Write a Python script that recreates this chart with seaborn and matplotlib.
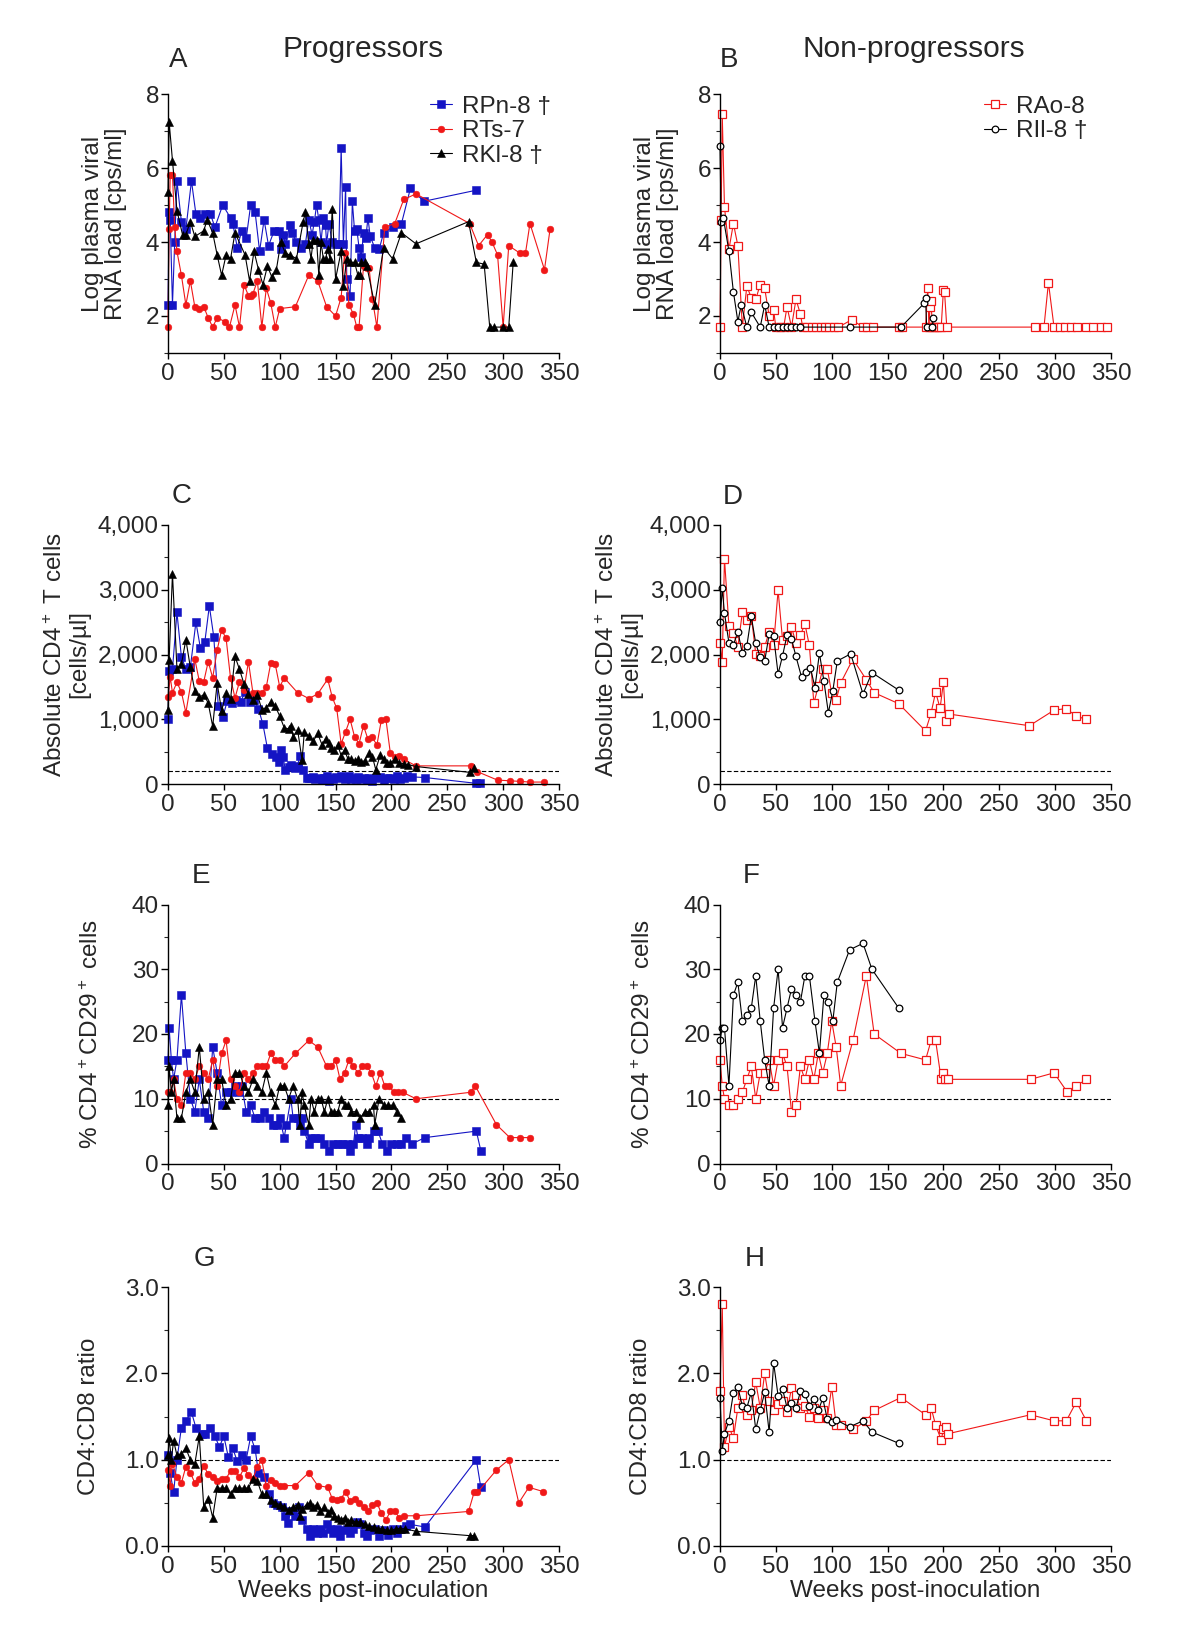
import matplotlib
matplotlib.use("Agg")
import matplotlib.pyplot as plt
import seaborn as sns
import pandas as pd
from matplotlib.ticker import MultipleLocator, FuncFormatter

# ----------------------------------------------------------
# data (week, value)
# ----------------------------------------------------------
# A: log plasma viral RNA load, progressors
rpn8_vl = [(0, 2.3), (1, 4.8), (2, 4.6), (4, 2.3), (6, 4.0), (8, 5.65), (12, 4.55), (16, 4.35), (21, 5.65),
           (25, 4.75), (29, 4.65), (33, 4.75), (38, 4.75), (42, 4.4), (49, 5.0), (56, 4.65), (58, 4.5),
           (62, 3.85), (66, 4.3), (70, 4.1), (74, 5.0), (78, 4.8), (82, 3.75), (86, 4.6), (90, 3.9),
           (95, 4.3), (99, 4.3), (101, 3.8), (103, 4.2), (105, 3.95), (109, 4.45), (111, 4.25), (115, 4.0),
           (119, 3.85), (123, 3.95), (126, 4.6), (129, 4.2), (131, 4.55), (133, 5.0), (135, 4.6), (137, 4.0),
           (139, 4.65), (141, 4.45), (142, 3.95), (144, 4.5), (147, 4.0), (150, 3.95), (153, 3.95),
           (155, 6.55), (157, 3.95), (159, 5.5), (160, 3.0), (163, 2.55), (165, 5.1), (167, 4.3), (169, 4.35),
           (171, 3.85), (173, 3.6), (175, 4.25), (177, 4.1), (179, 4.65), (181, 4.15), (185, 3.85),
           (189, 3.8), (193, 4.25), (201, 4.4), (209, 4.5), (217, 5.45), (229, 5.1), (276, 5.4)]
rts7_vl = [(0, 1.7), (1, 4.35), (2, 5.8), (4, 5.8), (6, 4.4), (8, 3.75), (12, 3.1), (16, 2.3), (20, 2.95),
           (24, 2.25), (28, 2.2), (32, 2.25), (36, 1.95), (40, 1.7), (44, 1.95), (51, 1.85), (55, 1.7),
           (60, 2.3), (64, 1.7), (68, 2.85), (72, 2.55), (74, 2.55), (76, 2.6), (80, 2.95), (84, 1.7),
           (88, 2.75), (92, 2.35), (96, 1.7), (100, 2.2), (114, 2.25), (126, 3.1), (134, 2.95), (142, 2.25),
           (150, 2.0), (155, 2.5), (158, 3.7), (162, 2.3), (166, 2.05), (169, 1.7), (171, 1.7), (175, 3.35),
           (178, 3.3), (180, 3.3), (183, 2.45), (187, 1.7), (194, 4.4), (203, 4.5), (211, 5.15), (222, 5.3),
           (270, 4.5), (278, 3.9), (286, 4.2), (290, 4.0), (295, 3.65), (300, 1.7), (305, 3.9), (315, 3.7),
           (320, 3.7), (324, 4.5), (337, 3.25), (342, 4.35)]
rkl8_vl = [(0, 5.35), (1, 7.25), (4, 6.2), (8, 4.85), (13, 4.2), (16, 4.2), (20, 4.55), (24, 4.15), (32, 4.3),
           (35, 4.6), (40, 4.25), (44, 3.65), (48, 3.1), (52, 3.65), (56, 3.55), (60, 4.25), (69, 3.65),
           (73, 2.95), (77, 3.75), (81, 3.25), (85, 2.85), (89, 3.35), (93, 3.05), (97, 3.25), (101, 4.0),
           (105, 3.7), (109, 3.65), (115, 3.55), (121, 4.55), (123, 4.8), (126, 3.95), (128, 3.55),
           (130, 4.05), (133, 4.05), (135, 3.1), (137, 4.0), (139, 3.55), (141, 3.55), (143, 3.8),
           (145, 3.55), (147, 4.9), (150, 3.0), (155, 3.75), (157, 2.8), (160, 3.55), (163, 3.45),
           (167, 3.45), (170, 3.1), (172, 3.1), (173, 3.45), (176, 3.45), (178, 3.35), (185, 2.3),
           (193, 3.85), (201, 3.55), (209, 4.25), (222, 3.95), (269, 4.55), (276, 3.45), (283, 3.4),
           (288, 1.7), (292, 1.7), (300, 1.7), (305, 1.7), (309, 3.45)]

# B: log plasma viral RNA load, non-progressors
rao8_vl = [(0, 1.7), (1, 4.6), (2, 7.45), (4, 4.95), (8, 3.8), (12, 4.5), (16, 3.9), (20, 1.7), (24, 2.8),
           (28, 2.5), (32, 2.45), (36, 2.85), (40, 2.75), (44, 2.0), (48, 2.15), (50, 1.7), (54, 1.7),
           (57, 1.7), (60, 2.25), (64, 1.7), (68, 2.45), (72, 2.05), (74, 1.7), (78, 1.7), (82, 1.7),
           (86, 1.7), (90, 1.7), (94, 1.7), (98, 1.7), (102, 1.7), (106, 1.7), (118, 1.9), (128, 1.7),
           (132, 1.7), (137, 1.7), (160, 1.7), (163, 1.7), (184, 1.7), (186, 2.75), (187, 1.7), (188, 2.25),
           (189, 2.4), (190, 1.7), (192, 1.7), (194, 1.7), (196, 1.7), (198, 1.7), (200, 2.7), (201, 2.65),
           (203, 1.7), (282, 1.7), (290, 1.7), (294, 2.9), (299, 1.7), (304, 1.7), (309, 1.7), (314, 1.7),
           (320, 1.7), (328, 1.7), (334, 1.7), (341, 1.7), (346, 1.7)]
rii8_vl = [(0, 6.6), (1, 4.55), (3, 4.65), (8, 3.75), (12, 2.65), (16, 1.85), (19, 2.3), (24, 1.7), (28, 2.1),
           (36, 1.7), (40, 2.3), (44, 1.7), (48, 1.7), (52, 1.7), (56, 1.7), (60, 1.7), (64, 1.7), (68, 1.7),
           (72, 1.7), (116, 1.7), (162, 1.7), (183, 2.35), (184, 2.5), (185, 1.7), (190, 1.7), (191, 1.95)]

# C: absolute CD4+ T cells, progressors
rpn8_cd4 = [(0, 1000), (1, 1750), (4, 1770), (8, 2650), (12, 1960), (16, 1780), (20, 1800), (25, 2500),
            (29, 2100), (33, 2200), (37, 2750), (41, 2270), (45, 1200), (49, 1030), (53, 1280), (57, 1250),
            (61, 1290), (65, 1270), (69, 1420), (73, 1270), (77, 1300), (81, 1160), (85, 920), (89, 550),
            (93, 470), (97, 420), (99, 340), (101, 520), (103, 420), (105, 220), (108, 270), (110, 300),
            (114, 250), (116, 280), (118, 430), (121, 220), (124, 90), (126, 100), (128, 90), (130, 110),
            (132, 80), (135, 100), (138, 60), (140, 90), (142, 120), (144, 50), (146, 100), (148, 80),
            (150, 110), (152, 90), (155, 120), (158, 70), (160, 100), (162, 130), (164, 80), (166, 100),
            (168, 70), (170, 110), (172, 80), (175, 100), (178, 60), (180, 100), (183, 40), (186, 90),
            (190, 110), (193, 60), (196, 90), (199, 100), (202, 80), (205, 120), (208, 70), (211, 90),
            (214, 130), (218, 110), (230, 100), (276, 10), (279, 10)]
rts7_cd4 = [(0, 1340), (2, 1650), (4, 1410), (8, 1570), (12, 1420), (16, 1100), (24, 1930), (28, 1590),
            (32, 1580), (36, 1890), (40, 1640), (44, 2070), (48, 2380), (52, 2250), (56, 1630), (60, 1330),
            (64, 1580), (68, 1450), (72, 1890), (76, 1410), (80, 1400), (84, 1400), (88, 1500), (92, 1870),
            (96, 1850), (100, 1500), (104, 1640), (116, 1410), (126, 1320), (134, 1390), (143, 1620),
            (147, 1340), (151, 1170), (155, 620), (159, 810), (163, 1000), (167, 730), (171, 620), (175, 900),
            (179, 690), (183, 720), (187, 600), (191, 990), (195, 1010), (199, 480), (203, 420), (207, 430),
            (211, 380), (222, 280), (271, 280), (277, 190), (295, 60), (306, 50), (315, 40), (324, 30),
            (337, 30)]
rkl8_cd4 = [(0, 1140), (1, 1920), (4, 3250), (8, 1780), (12, 1850), (16, 2230), (20, 1800), (24, 1440),
            (28, 1340), (32, 1380), (36, 1250), (40, 890), (44, 1560), (48, 1130), (52, 1400), (56, 1310),
            (60, 1970), (64, 1770), (68, 1550), (72, 1390), (76, 1290), (80, 1380), (84, 1150), (88, 1180),
            (92, 1270), (96, 1200), (100, 1050), (104, 870), (108, 850), (110, 900), (112, 730), (116, 840),
            (120, 370), (122, 800), (126, 740), (130, 660), (134, 780), (138, 600), (141, 700), (144, 640),
            (146, 560), (149, 520), (152, 600), (155, 440), (158, 520), (161, 390), (164, 390), (167, 360),
            (170, 380), (173, 340), (176, 360), (180, 480), (183, 420), (186, 220), (190, 450), (193, 380),
            (196, 320), (199, 330), (203, 380), (207, 330), (211, 310), (215, 300), (222, 270), (270, 180),
            (274, 240)]

# D: absolute CD4+ T cells, non-progressors
rao8_cd4 = [(0, 2180), (2, 1880), (4, 3480), (8, 2440), (12, 2330), (16, 2120), (20, 2650), (24, 2530),
            (28, 2600), (32, 2010), (36, 1970), (40, 2120), (44, 2350), (48, 2150), (52, 2990), (56, 2220),
            (60, 2290), (64, 2430), (68, 2170), (72, 2300), (76, 2470), (80, 2140), (84, 1250), (88, 1510),
            (92, 1770), (96, 1780), (100, 1400), (104, 1300), (108, 1560), (119, 1930), (131, 1610),
            (138, 1410), (160, 1240), (184, 820), (189, 1100), (193, 1420), (197, 1170), (200, 1570),
            (202, 980), (205, 1080), (277, 900), (299, 1140), (310, 1165), (319, 1045), (328, 1000)]
rii8_cd4 = [(0, 2500), (2, 3020), (4, 2640), (8, 2180), (12, 2150), (16, 2350), (20, 2020), (24, 2130),
            (28, 2590), (32, 2170), (36, 1960), (40, 1900), (44, 2310), (48, 2280), (52, 1700), (56, 1980),
            (60, 2300), (64, 2240), (68, 1970), (73, 1650), (77, 1730), (81, 1790), (85, 1490), (89, 2020),
            (93, 1590), (97, 1100), (101, 1440), (105, 1900), (117, 2010), (128, 1390), (136, 1720),
            (160, 1450)]

# E: % CD4+CD29+ cells, progressors
rpn8_cd29 = [(0, 16), (1, 21), (3, 16), (5, 13), (8, 16), (12, 26), (16, 17), (20, 10), (24, 8), (28, 13),
             (32, 8), (36, 7), (40, 18), (44, 14), (48, 9), (52, 11), (56, 11), (60, 12), (64, 11), (66, 12),
             (70, 8), (74, 9), (78, 7), (82, 7), (86, 8), (90, 7), (94, 6), (98, 6), (100, 7), (104, 4),
             (106, 6), (110, 10), (112, 7), (116, 7), (118, 6), (120, 7), (122, 5), (126, 3), (128, 4),
             (132, 4), (136, 4), (140, 3), (144, 2), (148, 3), (152, 3), (156, 3), (160, 3), (163, 2),
             (166, 3), (168, 6), (170, 4), (174, 4), (178, 3), (180, 4), (184, 5), (188, 5), (192, 3),
             (196, 2), (200, 3), (205, 3), (209, 3), (213, 4), (218, 3), (230, 4), (276, 5), (280, 2)]
rts7_cd29 = [(0, 11), (2, 11), (5, 13), (8, 10), (12, 9), (16, 14), (20, 14), (24, 13), (28, 15), (32, 14),
             (36, 13), (40, 16), (44, 12), (48, 17), (52, 19), (56, 13), (60, 12), (64, 11), (68, 14),
             (72, 13), (76, 14), (80, 15), (84, 15), (88, 15), (92, 17), (96, 16), (100, 16), (104, 15),
             (114, 17), (126, 19), (134, 18), (142, 15), (146, 15), (150, 16), (154, 13), (158, 14),
             (162, 16), (166, 15), (170, 14), (174, 15), (178, 15), (182, 14), (186, 12), (190, 14),
             (194, 12), (198, 12), (202, 11), (206, 11), (210, 11), (222, 10), (271, 11), (275, 12),
             (294, 6), (306, 4), (315, 4), (324, 4)]
rkl8_cd29 = [(0, 9), (1, 15), (3, 11), (5, 13), (8, 7), (12, 7), (16, 11), (20, 13), (24, 11), (28, 18),
             (32, 10), (36, 11), (40, 6), (44, 13), (48, 13), (52, 9), (56, 10), (60, 14), (64, 14), (68, 12),
             (72, 11), (76, 13), (80, 12), (84, 11), (88, 14), (92, 11), (96, 9), (100, 12), (104, 12),
             (108, 10), (112, 12), (116, 10), (118, 6), (120, 11), (122, 9), (126, 6), (128, 10), (131, 8),
             (134, 10), (137, 10), (140, 8), (143, 10), (146, 8), (149, 8), (152, 8), (155, 10), (158, 9),
             (161, 9), (164, 8), (168, 8), (172, 7), (176, 8), (180, 8), (184, 9), (185, 6), (189, 10),
             (193, 9), (197, 9), (201, 9), (205, 8), (209, 7)]

# F: % CD4+CD29+ cells, non-progressors
rao8_cd29 = [(0, 16), (2, 12), (4, 10), (8, 9), (12, 9), (16, 10), (20, 11), (24, 13), (28, 15), (32, 10),
             (36, 14), (40, 14), (44, 16), (48, 12), (52, 16), (56, 17), (60, 15), (64, 8), (68, 9), (72, 15),
             (76, 13), (80, 16), (84, 13), (88, 17), (92, 14), (96, 17), (100, 22), (104, 18), (108, 12),
             (119, 19), (131, 29), (138, 20), (162, 17), (184, 16), (189, 19), (193, 19), (198, 13),
             (200, 14), (201, 13), (204, 13), (278, 13), (299, 14), (311, 11), (319, 12), (328, 13)]
rii8_cd29 = [(0, 19), (2, 21), (4, 21), (8, 12), (12, 26), (16, 28), (20, 22), (24, 23), (28, 24), (32, 29),
             (36, 22), (40, 16), (44, 12), (48, 24), (52, 30), (56, 21), (60, 24), (64, 27), (68, 26),
             (72, 25), (76, 29), (80, 29), (85, 22), (89, 17), (93, 26), (97, 25), (101, 22), (105, 28),
             (116, 33), (128, 34), (136, 30), (160, 24)]

# G: CD4:CD8 ratio, progressors
rpn8_ratio = [(0, 1.05), (2, 0.85), (5, 0.62), (8, 1.0), (12, 1.37), (16, 1.45), (21, 1.55), (25, 1.37),
              (30, 1.3), (33, 1.3), (38, 1.37), (42, 1.27), (46, 1.15), (50, 1.27), (54, 1.03), (58, 1.13),
              (62, 0.98), (66, 1.05), (70, 1.0), (74, 1.27), (78, 1.12), (81, 0.85), (86, 0.8), (90, 0.6),
              (94, 0.5), (98, 0.47), (102, 0.45), (105, 0.35), (107, 0.27), (110, 0.4), (114, 0.35),
              (117, 0.45), (120, 0.3), (124, 0.2), (127, 0.12), (130, 0.2), (133, 0.15), (136, 0.2),
              (139, 0.15), (142, 0.25), (145, 0.2), (148, 0.15), (151, 0.2), (154, 0.12), (157, 0.18),
              (160, 0.2), (163, 0.15), (166, 0.2), (169, 0.28), (172, 0.25), (175, 0.15), (178, 0.12),
              (181, 0.18), (185, 0.2), (189, 0.12), (193, 0.18), (197, 0.13), (201, 0.2), (205, 0.15),
              (209, 0.2), (213, 0.23), (217, 0.25), (230, 0.22), (276, 1.0), (280, 0.68)]
rts7_ratio = [(0, 0.88), (2, 0.7), (4, 0.95), (8, 0.8), (12, 0.73), (16, 0.92), (20, 0.85), (24, 0.73),
              (28, 0.78), (32, 0.93), (36, 0.83), (40, 0.8), (44, 0.75), (48, 0.78), (52, 0.78), (56, 0.87),
              (60, 0.87), (64, 0.8), (68, 0.9), (72, 0.82), (76, 0.78), (80, 0.92), (84, 1.0), (88, 0.7),
              (92, 0.77), (96, 0.73), (100, 0.7), (104, 0.7), (114, 0.7), (126, 0.85), (134, 0.7),
              (143, 0.68), (147, 0.55), (151, 0.53), (155, 0.55), (159, 0.63), (163, 0.52), (167, 0.55),
              (171, 0.5), (175, 0.45), (179, 0.4), (183, 0.48), (187, 0.5), (191, 0.38), (195, 0.3),
              (199, 0.4), (203, 0.4), (207, 0.33), (211, 0.35), (222, 0.35), (269, 0.4), (274, 0.62),
              (277, 0.62), (294, 0.88), (305, 1.0), (314, 0.5), (323, 0.68), (336, 0.63)]
rkl8_ratio = [(0, 1.05), (1, 1.25), (3, 1.0), (5, 1.22), (8, 1.05), (12, 1.07), (16, 1.13), (20, 1.0),
              (24, 0.95), (28, 1.27), (32, 0.45), (36, 0.55), (40, 0.33), (44, 0.67), (48, 0.67), (52, 0.67),
              (56, 0.6), (60, 0.67), (64, 0.67), (68, 0.67), (72, 0.67), (76, 0.78), (80, 0.75), (84, 0.6),
              (88, 0.6), (92, 0.53), (96, 0.5), (100, 0.48), (104, 0.45), (108, 0.42), (112, 0.45),
              (116, 0.48), (118, 0.35), (120, 0.43), (124, 0.48), (127, 0.5), (130, 0.45), (133, 0.48),
              (136, 0.4), (140, 0.45), (143, 0.38), (146, 0.42), (149, 0.35), (152, 0.33), (155, 0.3),
              (158, 0.33), (161, 0.28), (164, 0.3), (168, 0.28), (172, 0.28), (176, 0.25), (180, 0.23),
              (184, 0.22), (188, 0.2), (192, 0.2), (196, 0.18), (200, 0.18), (204, 0.2), (208, 0.2),
              (212, 0.2), (222, 0.17), (270, 0.12), (274, 0.12)]

# H: CD4:CD8 ratio, non-progressors
rao8_ratio = [(0, 1.8), (2, 2.8), (4, 1.15), (8, 1.38), (12, 1.25), (16, 1.6), (20, 1.75), (24, 1.52),
              (28, 1.58), (32, 1.9), (36, 1.6), (40, 2.0), (44, 1.68), (48, 1.58), (52, 1.65), (56, 1.68),
              (60, 1.55), (64, 1.83), (68, 1.75), (72, 1.6), (76, 1.62), (80, 1.5), (84, 1.6), (88, 1.48),
              (92, 1.58), (96, 1.48), (100, 1.84), (104, 1.4), (108, 1.4), (119, 1.35), (131, 1.45),
              (138, 1.57), (162, 1.72), (184, 1.52), (189, 1.6), (193, 1.4), (198, 1.23), (200, 1.35),
              (202, 1.38), (204, 1.3), (278, 1.52), (299, 1.45), (310, 1.45), (319, 1.67), (328, 1.45)]
rii8_ratio = [(0, 1.72), (2, 1.1), (4, 1.3), (8, 1.45), (12, 1.77), (16, 1.84), (20, 1.62), (24, 1.6),
              (28, 1.78), (32, 1.35), (36, 1.57), (40, 1.78), (44, 1.32), (48, 2.12), (52, 1.74), (56, 1.82),
              (60, 1.6), (64, 1.66), (68, 1.6), (72, 1.79), (76, 1.76), (80, 1.62), (84, 1.7), (88, 1.57),
              (92, 1.71), (96, 1.47), (100, 1.44), (104, 1.46), (116, 1.38), (128, 1.45), (136, 1.32),
              (160, 1.19)]

progressor_labels = ["RPn-8 \u2020", "RTs-7", "RKl-8 \u2020"]
nonprogressor_labels = ["RAo-8", "RIl-8 \u2020"]
panel_letters = ["A", "B", "C", "D", "E", "F", "G", "H"]
col_titles = ["Progressors", "Non-progressors"]
y_labels = ["Log plasma viral\nRNA load [cps/ml]",
            "Absolute CD4$^+$ T cells\n[cells/\u00b5l]",
            "% CD4$^+$CD29$^+$ cells",
            "CD4:CD8 ratio"]
x_label = "Weeks post-inoculation"
thresholds = [None, 200, 10, 1.0]

# ----------------------------------------------------------
# style
# ----------------------------------------------------------
sns.set_style("ticks")
plt.rcParams["font.family"] = ["Liberation Sans", "DejaVu Sans"]
plt.rcParams["mathtext.default"] = "regular"

BLUE = "#1414c4"
RED = "#f01818"
BLACK = "#000000"
FS = 17.5

W, H = 1200, 1639
fig = plt.figure(figsize=(W / 100, H / 100), dpi=100)


def make_axes(left, bottom, width=391, height=259):
    return fig.add_axes([left / W, 1 - bottom / H, width / W, height / H])


def draw(ax, pts, color, marker, ms, hollow=False, label=None):
    df = pd.DataFrame(pts, columns=["week", "value"])
    sns.lineplot(data=df, x="week", y="value", ax=ax, sort=False, estimator=None,
                 color=color, lw=0.8, marker=marker, ms=ms,
                 mfc="white" if hollow else color, mec=color,
                 mew=0.9 if hollow else 0.4, clip_on=False, label=label)


lefts = [168, 720]
bottoms = [353, 784, 1163.5, 1546]
axes = [[make_axes(l, b) for l in lefts] for b in bottoms]

prog = [rpn8_vl, rts7_vl, rkl8_vl], [rpn8_cd4, rts7_cd4, rkl8_cd4], \
       [rpn8_cd29, rts7_cd29, rkl8_cd29], [rpn8_ratio, rts7_ratio, rkl8_ratio]
nonprog = [rao8_vl, rii8_vl], [rao8_cd4, rii8_cd4], [rao8_cd29, rii8_cd29], [rao8_ratio, rii8_ratio]

ylims = [(1, 8), (0, 4000), (0, 40), (0, 3)]
ymajor = [2, 1000, 10, 1.0]
yminor = [1, 500, 5, 0.5]
ylabel_x = [-0.105, -0.20, -0.165, -0.175]

for r in range(4):
    axl, axr = axes[r]
    # progressors
    for pts, col, mk, ms, lab in zip(prog[r], [BLUE, RED, BLACK], ["s", "o", "^"], [5.4, 4.8, 5.2],
                                     progressor_labels):
        draw(axl, pts, col, mk, ms, label=lab if r == 0 else None)
    # non-progressors
    for pts, col, mk, ms, lab in zip(nonprog[r], [RED, BLACK], ["s", "o"], [5.8, 4.8],
                                     nonprogressor_labels):
        draw(axr, pts, col, mk, ms, hollow=True, label=lab if r == 0 else None)

    for ax in (axl, axr):
        ax.set_xlim(0, 350)
        ax.set_ylim(*ylims[r])
        ax.xaxis.set_major_locator(MultipleLocator(50))
        ax.yaxis.set_major_locator(MultipleLocator(ymajor[r]))
        ax.yaxis.set_minor_locator(MultipleLocator(yminor[r]))
        if r == 1:
            ax.yaxis.set_major_formatter(FuncFormatter(lambda v, p: f"{int(v):,}"))
        if r == 3:
            ax.yaxis.set_major_formatter(FuncFormatter(lambda v, p: f"{v:.1f}"))
        sns.despine(ax=ax)
        for s in ("left", "bottom"):
            ax.spines[s].set_linewidth(1.0)
            ax.spines[s].set_color("black")
        ax.tick_params(axis="both", which="major", labelsize=FS, direction="out", width=1.0,
                       color="black")
        ax.tick_params(axis="y", which="major", length=5, pad=1.5)
        ax.tick_params(axis="y", which="minor", length=3, width=0.8)
        ax.tick_params(axis="x", which="major", length=4, pad=3)
        ax.set_ylabel(y_labels[r], fontsize=FS, linespacing=1.05)
        ax.yaxis.set_label_coords(ylabel_x[r], 0.5)
        if r == 3:
            ax.set_xlabel(x_label, fontsize=FS, labelpad=2)
        else:
            ax.set_xlabel("")
        if thresholds[r] is not None:
            ax.axhline(thresholds[r], color="black", lw=0.8, ls=(0, (4, 2)), zorder=1)
        leg = ax.get_legend()
        if leg is not None:
            leg.remove()

# legends
axes[0][0].legend(loc="upper right", bbox_to_anchor=(1.01, 1.04), fontsize=FS, frameon=False,
                  handlelength=0.9, handletextpad=0.4, labelspacing=0.1, borderpad=0)
axes[0][1].legend(loc="upper right", bbox_to_anchor=(0.97, 1.04), fontsize=FS, frameon=False,
                  handlelength=0.9, handletextpad=0.4, labelspacing=0.1, borderpad=0)

# panel letters and column titles
letter_pos = [(178, 60), (729, 60), (182, 496), (733, 497), (201, 876), (751, 876), (204, 1259), (755, 1259)]
for letter, (x, y) in zip(panel_letters, letter_pos):
    fig.text(x / W, 1 - y / H, letter, fontsize=20, ha="center", va="center")
fig.text(363 / W, 1 - 49 / H, col_titles[0], fontsize=21.5, ha="center", va="center")
fig.text(914 / W, 1 - 49 / H, col_titles[1], fontsize=21.5, ha="center", va="center")

fig.savefig("out.png", dpi=100)
